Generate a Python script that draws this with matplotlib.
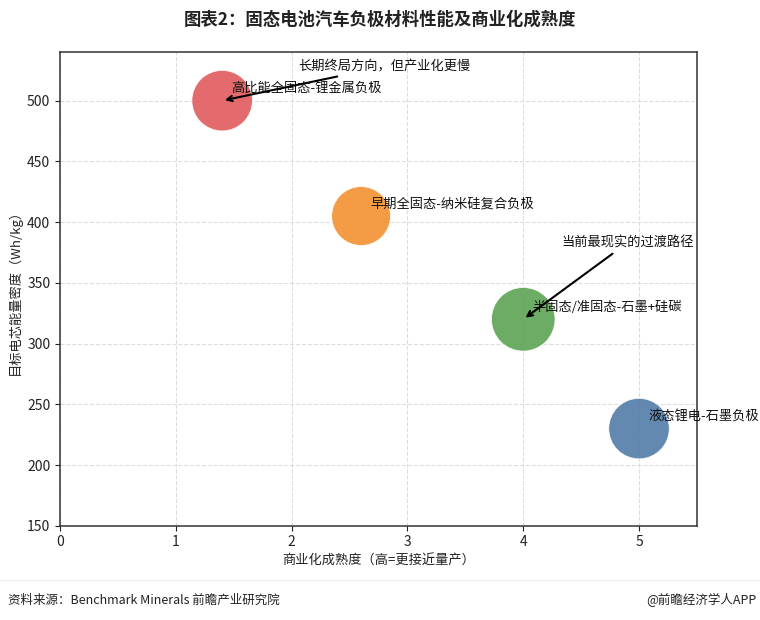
import matplotlib
matplotlib.use("Agg")
import matplotlib.pyplot as plt
from matplotlib.lines import Line2D

plt.rcParams['font.family'] = ['Noto Sans CJK SC', 'DejaVu Sans']
plt.rcParams['axes.unicode_minus'] = False

# data
labels = ['高比能全固态-锂金属负极', '早期全固态-纳米硅复合负极',
          '半固态/准固态-石墨+硅碳', '液态锂电-石墨负极']
maturity = [1.4, 2.6, 4.0, 5.0]
energy = [500, 405, 320, 230]
sizes = [1900, 1800, 2100, 1900]
colors = ['#E15759', '#F28E2B', '#59A14F', '#4E79A7']

notes = ['长期终局方向，但产业化更慢', '当前最现实的过渡路径']
note_target = [0, 2]
note_pos = [(2.8, 528), (4.9, 383)]

xticks = [0, 1, 2, 3, 4, 5]
yticks = [150, 200, 250, 300, 350, 400, 450, 500]

fig = plt.figure(figsize=(7.6, 6.2), dpi=100)
ax = fig.add_axes([0.079, 0.152, 0.838, 0.764])

ax.scatter(maturity, energy, s=sizes, c=colors, alpha=0.88,
           edgecolors='white', linewidths=0.6, zorder=3)

for x, y, lab in zip(maturity, energy, labels):
    ax.text(x + 0.08, y + 10, lab, fontsize=9.5, ha='left', va='center',
            color='#111111', zorder=5)

for txt, i, pos in zip(notes, note_target, note_pos):
    ax.annotate(txt, xy=(maturity[i], energy[i]), xytext=pos,
                fontsize=9.5, ha='center', va='center', color='#111111',
                arrowprops=dict(arrowstyle='->', color='black', lw=1.5),
                zorder=6)

ax.set_xlim(0, 5.5)
ax.set_ylim(150, 540)
ax.set_xticks(xticks)
ax.set_yticks(yticks)
ax.tick_params(labelsize=10, colors='#222222')
ax.grid(True, linestyle='--', color='#dddddd', linewidth=0.8, zorder=0)
ax.set_axisbelow(True)
for sp in ax.spines.values():
    sp.set_color('#333333')
    sp.set_linewidth(1.1)

ax.set_xlabel('商业化成熟度（高=更接近量产）', fontsize=9.5, color='#222222')
ax.set_ylabel('目标电芯能量密度（Wh/kg）', fontsize=9.5, color='#222222')

fig.text(0.5, 0.968, '图表2：固态电池汽车负极材料性能及商业化成熟度',
         ha='center', va='center', fontsize=12.5, fontweight='bold',
         color='#222222')

fig.add_artist(Line2D([0, 1], [0.065, 0.065], transform=fig.transFigure,
                      color='#eeeeee', linewidth=1))
fig.text(0.01, 0.032, '资料来源：Benchmark Minerals 前瞻产业研究院',
         ha='left', va='center', fontsize=9, color='#222222')
fig.text(0.996, 0.032, '@前瞻经济学人APP',
         ha='right', va='center', fontsize=9, color='#222222')

fig.savefig('out.png', dpi=100, facecolor='white')
